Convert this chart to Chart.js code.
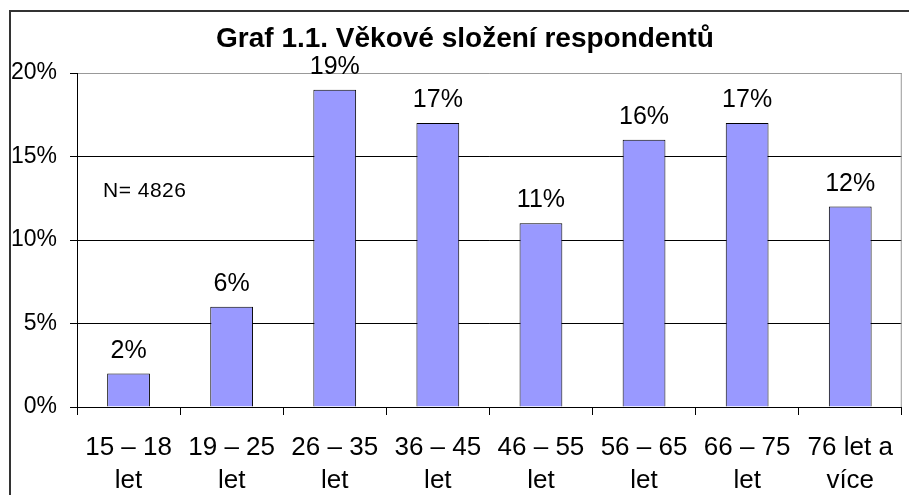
<!DOCTYPE html>
<html>
<head>
<meta charset="utf-8">
<script src="https://cdn.jsdelivr.net/npm/chart.js@4.4.1/dist/chart.umd.min.js"></script>
<style>
    html, body { margin: 0; padding: 0; background: #fff; overflow: hidden; }
    #wrap { position: relative; width: 909px; height: 495px; }
    #frame { position: absolute; left: 9px; top: 10px; width: 940px; height: 520px; border: 2px solid #333; box-sizing: border-box; pointer-events: none; }
    #chart { position: absolute; left: 0; top: 0; }
</style>
</head>
<body>
<div id="wrap">
    <div id="frame"></div>
    <canvas id="chart" width="909" height="495"></canvas>
</div>
<script>
const chartTitle = 'Graf 1.1. Věkové složení respondentů';
const ageGroups = [
    ['15 – 18', 'let'],
    ['19 – 25', 'let'],
    ['26 – 35', 'let'],
    ['36 – 45', 'let'],
    ['46 – 55', 'let'],
    ['56 – 65', 'let'],
    ['66 – 75', 'let'],
    ['76 let a', 'více']
];
const sharePct = [2, 6, 19, 17, 11, 16, 17, 12];
const yTicks = [0, 5, 10, 15, 20];
const noteText = 'N= 4826';

const FONT = "'Liberation Sans', Arial, sans-serif";

// title, value labels above bars, N note, gray right edge of plot
const extrasPlugin = {
    id: 'extras',
    afterDatasetsDraw(chart) {
        const { ctx, chartArea } = chart;
        const meta = chart.getDatasetMeta(0);
        ctx.save();
        ctx.fillStyle = '#000';
        ctx.textBaseline = 'alphabetic';

        ctx.font = 'bold 28px ' + FONT;
        ctx.textAlign = 'center';
        ctx.fillText(chartTitle, 465, 47);

        ctx.font = '25px ' + FONT;
        meta.data.forEach((bar, i) => {
            ctx.fillText(sharePct[i] + '%', bar.x, bar.y - 16);
        });

        ctx.strokeStyle = '#999';
        ctx.lineWidth = 1;
        ctx.beginPath();
        ctx.moveTo(chartArea.right - 0.5, chartArea.top);
        ctx.lineTo(chartArea.right - 0.5, chartArea.bottom);
        ctx.stroke();

        ctx.font = '21px ' + FONT;
        ctx.textAlign = 'left';
        if ('letterSpacing' in ctx) ctx.letterSpacing = '0.5px';
        ctx.fillText(noteText, 103, 197);
        ctx.restore();
    }
};

new Chart(document.getElementById('chart'), {
    type: 'bar',
    data: {
        labels: ageGroups,
        datasets: [{
            data: sharePct,
            backgroundColor: '#9999FF',
            borderColor: '#000',
            borderWidth: 1,
            categoryPercentage: 1,
            barPercentage: 0.415
        }]
    },
    options: {
        responsive: false,
        animation: false,
        layout: { padding: { left: 10, right: 2, top: 73, bottom: 0 } },
        plugins: {
            legend: { display: false },
            tooltip: { enabled: false },
            title: { display: false }
        },
        scales: {
            x: {
                border: { color: '#000', width: 1 },
                grid: { offset: true, drawOnChartArea: false, drawTicks: true, tickLength: 8, tickColor: '#000' },
                ticks: {
                    color: '#000',
                    padding: 16,
                    maxRotation: 0,
                    autoSkip: false,
                    font: { family: FONT, size: 26, lineHeight: 1.27 }
                },
                afterFit(scale) { scale.height = 88; }
            },
            y: {
                min: 0,
                max: 20,
                border: { color: '#000', width: 1 },
                grid: {
                    color: (c) => c.tick && c.tick.value === 20 ? '#999' : '#000',
                    tickColor: '#000',
                    tickLength: 7
                },
                afterBuildTicks(scale) { scale.ticks = yTicks.map(v => ({ value: v })); },
                ticks: {
                    color: '#000',
                    padding: 13,
                    font: { family: FONT, size: 23 },
                    callback: (v) => v + '%'
                },
                afterFit(scale) { scale.width = 67; }
            }
        }
    },
    plugins: [extrasPlugin]
});
</script>
</body>
</html>
